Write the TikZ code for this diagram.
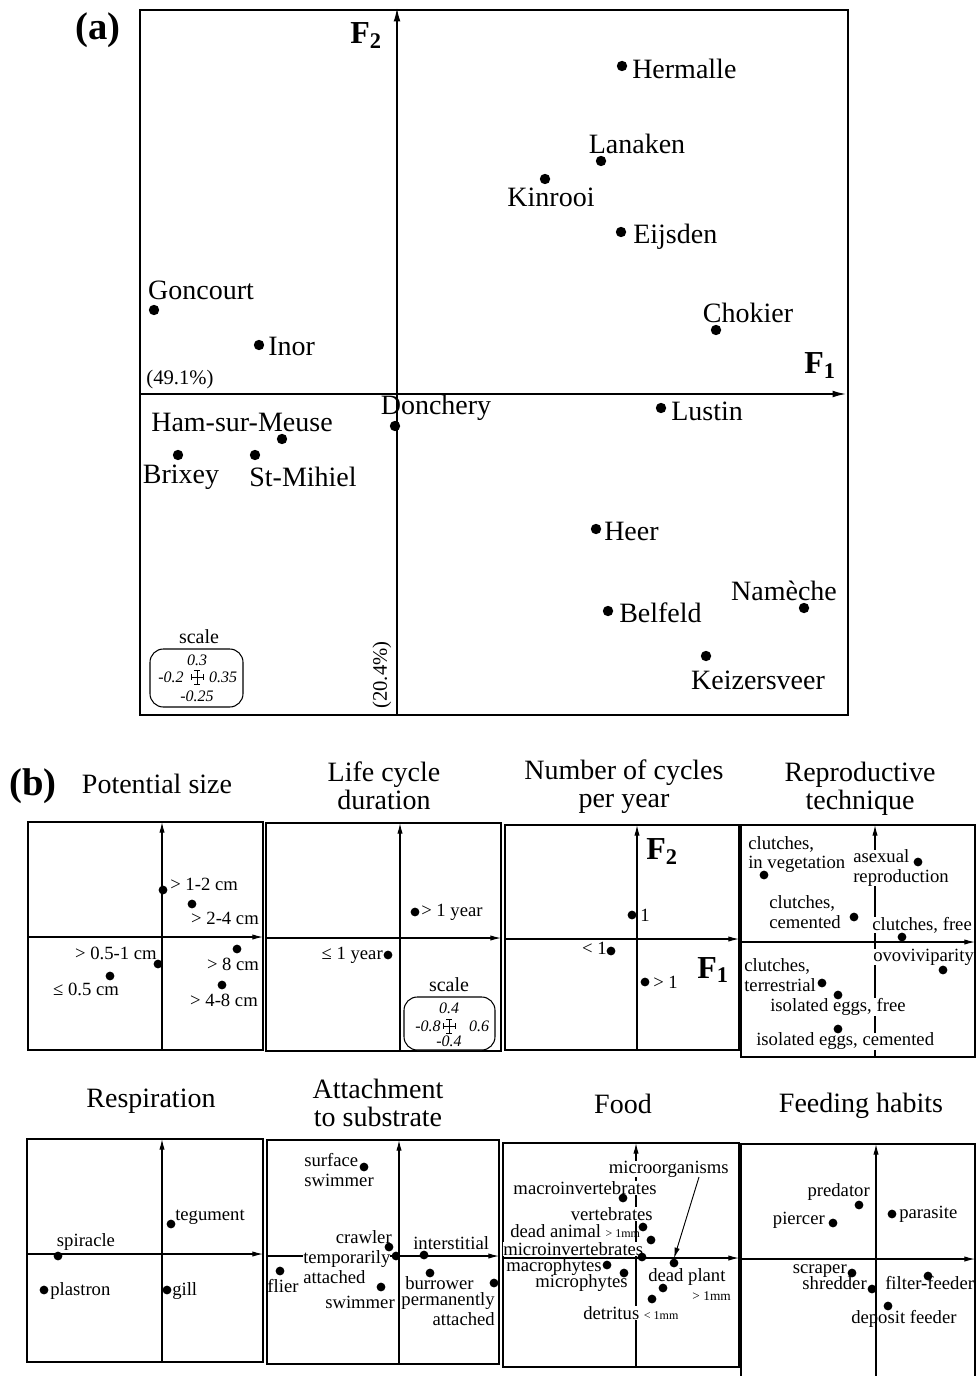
\documentclass[tikz,border=0pt]{standalone}
\usepackage{fontspec}
\setmainfont{Liberation Serif}
\usetikzlibrary{arrows.meta}
\begin{document}
\begin{tikzpicture}[x=0.75pt,y=-0.75pt,
 pbox/.style={draw,line width=0.9pt},
 axisA/.style={line width=1pt,-{Latex[length=10pt,width=5pt]}},
 axisB/.style={line width=0.8pt,-{Latex[length=8pt,width=4pt]}},
 dotA/.style={circle,fill=black,inner sep=0pt,minimum size=7.8pt},
 dotB/.style={circle,fill=black,inner sep=0pt,minimum size=6.6pt},
 lblA/.style={font=\fontsize{21}{23}\selectfont,inner sep=0pt},
 lblB/.style={font=\fontsize{14}{14.5}\selectfont,inner sep=0pt,align=left},
 hideax/.style={fill=white},
 ttl/.style={font=\fontsize{21}{21}\selectfont,align=center,inner sep=0pt},
 pct/.style={font=\fontsize{15.5}{15.5}\selectfont,inner sep=0pt},
 sclbl/.style={font=\fontsize{15}{15}\selectfont,inner sep=0pt},
 scnum/.style={font=\itshape\fontsize{12}{12}\selectfont,inner sep=0pt},
 scbox/.style={draw,rounded corners=10pt,line width=0.8pt,fill=white},
 Flbl/.style={font=\bfseries\fontsize{24}{24}\selectfont,inner sep=0pt},
 panellbl/.style={font=\bfseries\fontsize{29}{29}\selectfont,inner sep=0pt},
 xcross/.pic={\draw[line width=0.6pt] (-6,0)--(6,0) (-6,-3)--(-6,3) (6,-3)--(6,3) (0,-7)--(0,7) (-3,-7)--(3,-7) (-3,7)--(3,7);},
 small/.style={font=\fontsize{10}{10}\selectfont}
]
\useasboundingbox (0,0) rectangle (976,1376);

% ================= panel (a) =================
\node[panellbl] (labA) at (98,30) {(a)};
\draw[pbox] (140,10) rectangle (848,715);
\coordinate (aVb) at (397,715); \coordinate (aVt) at (397,8);
\coordinate (aHl) at (140,394); \coordinate (aHr) at (846,394);
\draw[axisA] (aVb) -- (aVt);
\draw[axisA] (aHl) -- (aHr);
\node[Flbl] (aF2) at (366,36) {F\textsubscript{2}};
\node[Flbl] (aF1) at (820,366) {F\textsubscript{1}};
\node[pct] (a491) at (180,380) {(49.1\%)};
\node[pct,rotate=90] (a204) at (382,675) {(20.4\%)};

\node[lblA,anchor=west] (hermL) at (632,69) {Hermalle};
\node[dotA] (hermD) at (622,66) {};
\node[lblA] (lanL) at (637,144) {Lanaken};
\node[dotA] (lanD) at (601,161) {};
\node[lblA] (kinL) at (551,197) {Kinrooi};
\node[dotA] (kinD) at (545,179) {};
\node[lblA,anchor=west] (eijL) at (633,237) {Eijsden};
\node[dotA] (eijD) at (621,232) {};
\node[lblA] (gonL) at (201,290) {Goncourt};
\node[dotA] (gonD) at (154,310) {};
\node[lblA,anchor=west] (inoL) at (268,346) {Inor};
\node[dotA] (inoD) at (259,345) {};
\node[lblA] (choL) at (748,313) {Chokier};
\node[dotA] (choD) at (716,330) {};
\node[lblA] (donL) at (436,408) {Donchery};
\node[dotA] (donD) at (395,426) {};
\node[lblA,anchor=west] (lusL) at (671,411) {Lustin};
\node[dotA] (lusD) at (661,408) {};
\node[lblA] (hamL) at (242,422) {Ham-sur-Meuse};
\node[dotA] (hamD) at (282,439) {};
\node[lblA] (briL) at (181,477) {Brixey};
\node[dotA] (briD) at (178,455) {};
\node[lblA] (stmL) at (303,477) {St-Mihiel};
\node[dotA] (stmD) at (255,455) {};
\node[lblA,anchor=west] (heeL) at (604,531) {Heer};
\node[dotA] (heeD) at (596,529) {};
\node[lblA] (namL) at (784,591) {Namèche};
\node[dotA] (namD) at (804,608) {};
\node[lblA,anchor=west] (belL) at (619,613) {Belfeld};
\node[dotA] (belD) at (608,611) {};
\node[lblA] (keiL) at (758,680) {Keizersveer};
\node[dotA] (keiD) at (706,656) {};

% scale (a)
\node[sclbl] (aScT) at (199,637) {scale};
\draw[scbox] (150,649) rectangle (243,707);
\node[scnum] (aSc1) at (197,660) {0.3};
\node[scnum] (aSc2) at (171,677) {-0.2};
\pic at (197,677) {xcross};
\node[scnum] (aSc3) at (223,677) {0.35};
\node[scnum] (aSc4) at (197,696) {-0.25};

% ================= panel (b) titles =================
\node[panellbl] (labB) at (33,786) {(b)};
\node[ttl] (t1) at (157,784) {Potential size};
\node[ttl] (t2) at (384,786) {Life cycle\\duration};
\node[ttl] (t3) at (624,787) {Number of cycles\\per year};
\node[ttl] (t4) at (860,789) {Reproductive\\technique};
\node[ttl] (t5) at (151,1101) {Respiration};
\node[ttl] (t6) at (378,1103) {Attachment\\to substrate};
\node[ttl] (t7) at (623,1104) {Food};
\node[ttl] (t8) at (861,1106) {Feeding habits};

% ---------- P1 potential size ----------
\draw[pbox] (28,822) rectangle (263,1050);
\coordinate (p1b) at (162,1050); \coordinate (p1t) at (162,822);
\coordinate (p1l) at (28,937); \coordinate (p1r) at (263,937);
\draw[axisB] (p1b) -- (p1t); \draw[axisB] (p1l) -- (p1r);
\node[lblB,anchor=west] (s12L) at (170,884) {> 1-2 cm};
\node[dotB] (s12D) at (163,890) {};
\node[lblB] (s24L) at (225,918) {> 2-4 cm};
\node[dotB] (s24D) at (192,904) {};
\node[lblB,anchor=east] (s051L) at (157,953) {> 0.5-1 cm};
\node[dotB] (s051D) at (158,964) {};
\node[lblB] (s05L) at (86,989) {≤ 0.5 cm};
\node[dotB] (s05D) at (110,976) {};
\node[lblB] (s8L) at (233,964) {> 8 cm};
\node[dotB] (s8D) at (237,949) {};
\node[lblB] (s48L) at (224,1000) {> 4-8 cm};
\node[dotB] (s48D) at (222,985) {};

% ---------- P2 life cycle ----------
\draw[pbox] (266,823) rectangle (501,1051);
\coordinate (p2b) at (400,1051); \coordinate (p2t) at (400,823);
\coordinate (p2l) at (266,938); \coordinate (p2r) at (501,938);
\draw[axisB] (p2b) -- (p2t); \draw[axisB] (p2l) -- (p2r);
\node[lblB,anchor=west] (y1L) at (421,912) {> 1 year};
\node[dotB] (y1D) at (415,912) {};
\node[lblB,anchor=east] (y0L) at (383,955) {≤ 1 year};
\node[dotB] (y0D) at (388,955) {};
\node[sclbl] (bScT) at (449,985) {scale};
\draw[scbox] (404,997) rectangle (495,1050);
\node[scnum] (bSc1) at (449,1008) {0.4};
\node[scnum] (bSc2) at (428,1026) {-0.8};
\pic at (449,1026) {xcross};
\node[scnum] (bSc3) at (479,1026) {0.6};
\node[scnum] (bSc4) at (449,1041) {-0.4};

% ---------- P3 number of cycles ----------
\draw[pbox] (505,825) rectangle (739,1050);
\coordinate (p3b) at (637,1050); \coordinate (p3t) at (637,825);
\coordinate (p3l) at (505,939); \coordinate (p3r) at (739,939);
\draw[axisB] (p3b) -- (p3t); \draw[axisB] (p3l) -- (p3r);
\node[Flbl] (bF2) at (662,852) {F\textsubscript{2}};
\node[Flbl] (bF1) at (713,970) {F\textsubscript{1}};
\node[lblB,anchor=west] (c1L) at (640,915) {1};
\node[dotB] (c1D) at (632,915) {};
\node[lblB,anchor=east] (clt1L) at (607,948) {< 1};
\node[dotB] (clt1D) at (611,951) {};
\node[lblB,anchor=west] (cgt1L) at (653,982) {> 1};
\node[dotB] (cgt1D) at (645,982) {};

% ---------- P4 reproductive technique ----------
\draw[pbox] (741,825) rectangle (975,1057);
\coordinate (p4b) at (875,1057); \coordinate (p4t) at (875,825);
\coordinate (p4l) at (741,942); \coordinate (p4r) at (975,942);
\draw[axisB] (p4b) -- (p4t); \draw[axisB] (p4l) -- (p4r);
\node[lblB,anchor=west] (rvegL) at (748,854.5) {clutches,\\in vegetation};
\node[lblB,anchor=west,hideax] (rasxL) at (853,868) {asexual\\reproduction};
\node[lblB,anchor=west] (rcemL) at (769,912) {clutches,\\cemented};
\node[lblB,anchor=west,hideax] (rfreL) at (872,925) {clutches, free};
\node[lblB,anchor=west,hideax] (rovoL) at (873,957) {ovoviviparity};
\node[lblB,anchor=west] (rterL) at (744,975) {clutches,\\terrestrial};
\node[lblB,anchor=west,hideax] (rieL) at (770,1007) {isolated eggs, free};
\node[lblB,anchor=west,hideax] (riecL) at (756,1041) {isolated eggs, cemented};
\node[dotB] (rvegD) at (764,875) {};
\node[dotB] (rasxD) at (918,862) {};
\node[dotB] (rcemD) at (854,917) {};
\node[dotB] (rfreD) at (902,937) {};
\node[dotB] (rovoD) at (943,970) {};
\node[dotB] (rterD) at (822,983) {};
\node[dotB] (rieD) at (838,995) {};
\node[dotB] (riecD) at (838,1029) {};

% ---------- P5 respiration ----------
\draw[pbox] (27,1139) rectangle (263,1362);
\coordinate (p5b) at (162,1362); \coordinate (p5t) at (162,1139);
\coordinate (p5l) at (27,1254); \coordinate (p5r) at (263,1254);
\draw[axisB] (p5b) -- (p5t); \draw[axisB] (p5l) -- (p5r);
\node[lblB,anchor=west] (tegL) at (175,1217) {tegument};
\node[dotB] (tegD) at (171,1224) {};
\node[lblB] (spiL) at (86,1242) {spiracle};
\node[dotB] (spiD) at (58,1256) {};
\node[lblB,anchor=west] (plaL) at (50,1291) {plastron};
\node[dotB] (plaD) at (44,1290) {};
\node[lblB,anchor=west] (gilL) at (172,1291) {gill};
\node[dotB] (gilD) at (167,1290) {};

% ---------- P6 attachment ----------
\draw[pbox] (267,1140) rectangle (499,1364);
\coordinate (p6b) at (399,1364); \coordinate (p6t) at (399,1140);
\coordinate (p6l) at (267,1256); \coordinate (p6r) at (499,1256);
\draw[axisB] (p6b) -- (p6t); \draw[axisB] (p6l) -- (p6r);
\node[lblB,anchor=west] (surL) at (304,1170) {surface\\swimmer};
\node[lblB,anchor=east] (craL) at (392,1237) {crawler};
\node[lblB,anchor=west,hideax] (temL) at (303,1267) {temporarily\\attached};
\node[lblB,anchor=west] (intL) at (413,1243) {interstitial};
\node[lblB] (fliL) at (283,1286) {flier};
\node[lblB,anchor=east] (swiL) at (395,1302) {swimmer};
\node[lblB,anchor=west] (burL) at (405,1283) {burrower};
\node[lblB,anchor=east,align=right] (perL) at (495,1309) {permanently\\attached};
\node[dotB] (surD) at (364,1167) {};
\node[dotB] (craD) at (389,1247) {};
\node[dotB] (temD) at (396,1256) {};
\node[dotB] (intD) at (424,1255) {};
\node[dotB] (fliD) at (280,1271) {};
\node[dotB] (swiD) at (381,1287) {};
\node[dotB] (burD) at (430,1273) {};
\node[dotB] (perD) at (494,1283) {};

% ---------- P7 food ----------
\draw[pbox] (503,1143) rectangle (739,1367);
\coordinate (p7b) at (636,1367); \coordinate (p7t) at (636,1143);
\coordinate (p7l) at (503,1258); \coordinate (p7r) at (739,1258);
\draw[axisB] (p7b) -- (p7t); \draw[axisB] (p7l) -- (p7r);
\node[lblB,anchor=east,hideax] (mioL) at (729,1169) {microorganisms};
\node[lblB,hideax] (maiL) at (585,1188) {macroinvertebrates};
\node[lblB,anchor=east,hideax] (verL) at (653,1214) {vertebrates};
\node[lblB,anchor=west,hideax] (miiL) at (503,1249) {microinvertebrates};
\node[lblB,anchor=west] (daL) at (510,1231) {dead animal {\small > 1mm}};
\node[lblB,anchor=west] (macL) at (506,1267) {macrophytes};
\node[lblB,anchor=east] (micL) at (628,1283) {microphytes};
\node[lblB,anchor=west] (dpL) at (648,1277) {dead plant};
\node[small,anchor=east,inner sep=0pt] (dpL2) at (731,1296) {> 1mm};
\node[lblB,anchor=west,hideax] (detL) at (583,1313) {detritus {\small < 1mm}};
\node[dotB] (mioD) at (674,1263) {};
\node[dotB] (maiD) at (623,1198) {};
\node[dotB] (verD) at (643,1227) {};
\node[dotB] (daD) at (651,1240) {};
\node[dotB] (miiD) at (642,1257) {};
\node[dotB] (macD) at (607,1265) {};
\node[dotB] (micD) at (624,1273) {};
\node[dotB] (dpD) at (663,1288) {};
\node[dotB] (detD) at (652,1299) {};
\coordinate (mioS) at (699,1177);
\draw[line width=0.7pt,-{Latex[length=8pt,width=4pt]}] (mioS) -- (mioD.north);

% ---------- P8 feeding habits ----------
\draw[pbox] (741,1144) rectangle (975,1380);
\coordinate (p8b) at (876,1376); \coordinate (p8t) at (876,1144);
\coordinate (p8l) at (741,1259); \coordinate (p8r) at (975,1259);
\draw[axisB] (p8b) -- (p8t); \draw[axisB] (p8l) -- (p8r);
\node[lblB,anchor=east] (preL) at (870,1192) {predator};
\node[dotB] (preD) at (859,1205) {};
\node[lblB,anchor=east] (pieL) at (825,1220) {piercer};
\node[dotB] (pieD) at (833,1223) {};
\node[lblB,anchor=west] (parL) at (899,1214) {parasite};
\node[dotB] (parD) at (892,1214) {};
\node[lblB,anchor=east] (scrL) at (847,1271) {scraper};
\node[dotB] (scrD) at (852,1273) {};
\node[lblB,anchor=east] (shrL) at (867,1283) {shredder};
\node[dotB] (shrD) at (872,1289) {};
\node[lblB,anchor=west] (filL) at (885,1283) {filter-feeder};
\node[dotB] (filD) at (928,1276) {};
\node[lblB,anchor=west] (depL) at (851,1319) {deposit feeder};
\node[dotB] (depD) at (888,1306) {};
\end{tikzpicture}
\end{document}
